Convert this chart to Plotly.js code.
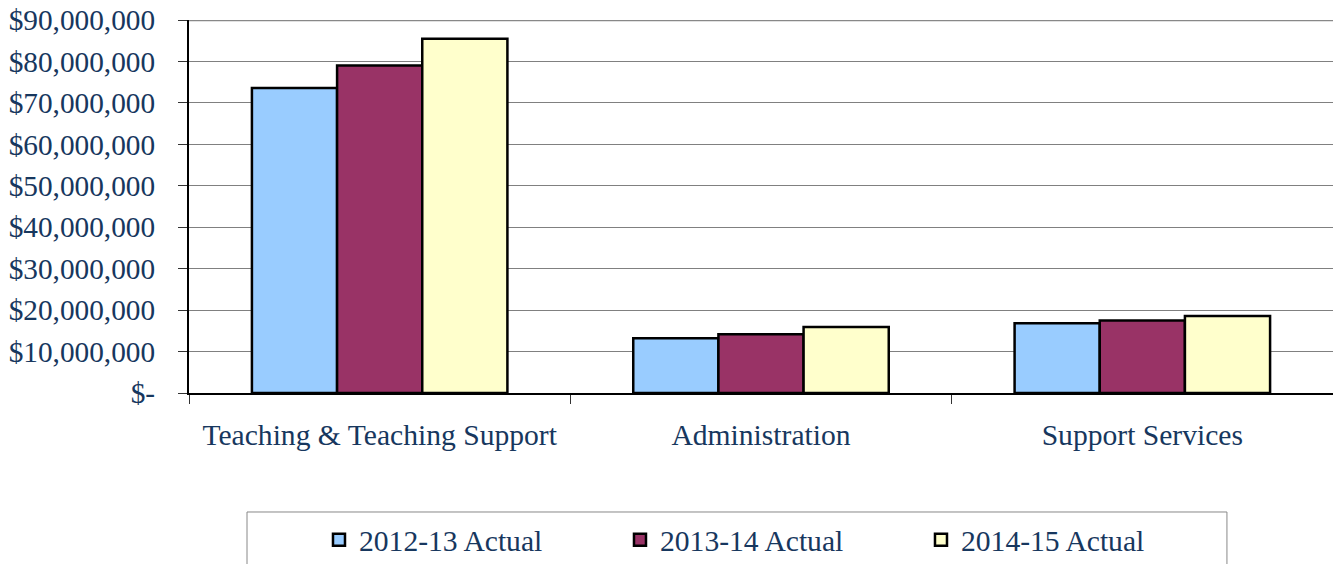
<!DOCTYPE html>
<html>
<head>
<meta charset="utf-8">
<script src="https://cdn.plot.ly/plotly-3.0.1.min.js"></script>
<style>html,body{margin:0;padding:0;background:#fff;}#chart{width:1333px;height:564px;}</style>
</head>
<body>
<div id="chart"></div>
<script>
const categories = ["Teaching & Teaching Support", "Administration", "Support Services"];
const seriesNames = ["2012-13 Actual", "2013-14 Actual", "2014-15 Actual"];
const actual2012_13 = [73600000, 13200000, 16800000];
const actual2013_14 = [79000000, 14200000, 17500000];
const actual2014_15 = [85500000, 15900000, 18600000];
const yTickVals = [0, 10000000, 20000000, 30000000, 40000000, 50000000, 60000000, 70000000, 80000000, 90000000];
const yTickText = ["$-", "$10,000,000", "$20,000,000", "$30,000,000", "$40,000,000", "$50,000,000", "$60,000,000", "$70,000,000", "$80,000,000", "$90,000,000"];

const colors = ["#99CCFF", "#993366", "#FFFFCC"];
const seriesValues = [actual2012_13, actual2013_14, actual2014_15];
const textColor = "#17375E";
const font = "Liberation Serif, Times New Roman, serif";

const traces = seriesValues.map((vals, i) => ({
  type: "bar",
  name: seriesNames[i],
  x: categories,
  y: vals,
  marker: {color: colors[i], line: {color: "#000000", width: 2.5}},
  hoverinfo: "x+y+name"
}));

const layout = {
  width: 1333, height: 564,
  margin: {l: 189, r: 0, t: 20, b: 171, pad: 0},
  paper_bgcolor: "#ffffff", plot_bgcolor: "#ffffff",
  barmode: "group", bargap: 0.33, bargroupgap: 0,
  font: {family: font, color: textColor},
  xaxis: {
    type: "category", range: [-0.5, 2.5],
    showline: true, linecolor: "#000000", linewidth: 1.5,
    ticks: "outside", tickson: "boundaries", ticklen: 9, tickcolor: "#333333", tickwidth: 1,
    tickfont: {family: font, size: 29.6, color: textColor},
    ticklabelstandoff: 15,
    showgrid: false, zeroline: false, fixedrange: true
  },
  yaxis: {
    range: [0, yTickVals[yTickVals.length - 1]],
    tickvals: yTickVals, ticktext: yTickText,
    showline: true, linecolor: "#000000", linewidth: 2,
    ticks: "outside", ticklen: 9, tickcolor: "#333333", tickwidth: 1,
    tickfont: {family: font, size: 29.3, color: textColor},
    ticklabelstandoff: 17,
    showgrid: true, gridcolor: "#808080", gridwidth: 1,
    zeroline: false, fixedrange: true
  },
  showlegend: true,
  legend: {
    orientation: "h", xref: "container", yref: "container",
    x: 0.2393, xanchor: "left", y: 0.0426, yanchor: "middle",
    font: {family: font, size: 29.6, color: textColor},
    bgcolor: "rgba(0,0,0,0)", borderwidth: 0,
    entrywidth: 256, itemclick: false, itemdoubleclick: false
  },
  shapes: [
    {type: "line", xref: "paper", yref: "y", x0: 0, x1: 1,
     y0: yTickVals[yTickVals.length - 1], y1: yTickVals[yTickVals.length - 1],
     line: {color: "#888888", width: 2.5}},
    {type: "rect", xref: "paper", yref: "paper", x0: 0.0507, x1: 0.9073, y0: -0.319, y1: -0.62,
     line: {color: "#888888", width: 1}, fillcolor: "rgba(0,0,0,0)", layer: "below"}
  ]
};

Plotly.newPlot("chart", traces, layout, {displayModeBar: false, staticPlot: true});
</script>
</body>
</html>
